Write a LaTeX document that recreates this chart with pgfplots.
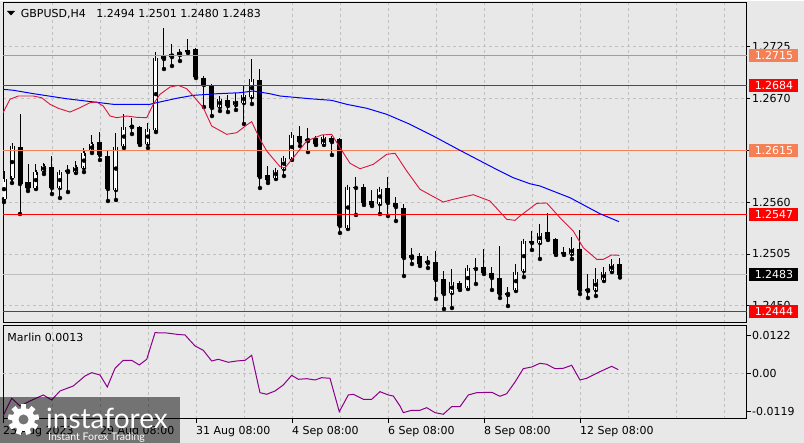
\documentclass[border=0pt]{standalone}
\usepackage{fontspec}
\setmainfont{DejaVu Sans}
\newfontfamily\wmfont{Lato}
\usepackage{pgfplots}
\pgfplotsset{compat=1.18}
\usepackage{pgfplotstable}
\definecolor{bg}{RGB}{232,232,232}
\definecolor{gridc}{RGB}{192,192,192}
\definecolor{lvlred}{RGB}{255,0,0}
\definecolor{lvlorange}{RGB}{245,128,85}
\definecolor{maRed}{RGB}{220,20,60}
\definecolor{maBlue}{RGB}{0,0,255}
\definecolor{marlin}{RGB}{140,0,140}
\definecolor{pricegray}{RGB}{190,190,190}
\definecolor{wmgray}{RGB}{116,116,116}

\pgfplotstableread{
i o h l c
0 1.25632 1.25929 1.25600 1.25844
1 1.25855 1.26226 1.25802 1.26194
2 1.26183 1.26533 1.25473 1.25791
3 1.25812 1.26003 1.25717 1.25749
4 1.25749 1.26003 1.25738 1.25918
5 1.25929 1.26014 1.25897 1.25982
6 1.25971 1.26088 1.25685 1.25749
7 1.25749 1.25929 1.25643 1.25918
8 1.25918 1.25993 1.25706 1.25940
9 1.25918 1.26035 1.25908 1.25971
10 1.25961 1.26173 1.25918 1.26120
11 1.26141 1.26311 1.26120 1.26215
12 1.26236 1.26342 1.26046 1.26099
13 1.26088 1.26141 1.25611 1.25738
14 1.25728 1.26332 1.25622 1.26183
15 1.26194 1.26533 1.26173 1.26395
16 1.26395 1.26491 1.26321 1.26406
17 1.26395 1.26406 1.26205 1.26215
18 1.26215 1.26438 1.26173 1.26374
19 1.26364 1.27190 1.26342 1.27127
20 1.27116 1.27445 1.27010 1.27148
21 1.27137 1.27275 1.27042 1.27169
22 1.27159 1.27222 1.27095 1.27190
23 1.27212 1.27328 1.27180 1.27190
24 1.27222 1.27233 1.26915 1.26925
25 1.26915 1.26936 1.26607 1.26841
26 1.26830 1.26851 1.26512 1.26597
27 1.26607 1.26724 1.26565 1.26692
28 1.26682 1.26735 1.26554 1.26618
29 1.26629 1.26756 1.26576 1.26671
30 1.26650 1.26830 1.26427 1.26735
31 1.26713 1.27116 1.26639 1.26904
32 1.26894 1.27010 1.25749 1.25865
33 1.25887 1.25982 1.25802 1.25834
34 1.25855 1.25950 1.25844 1.25940
35 1.25950 1.26077 1.25876 1.26067
36 1.26056 1.26342 1.26046 1.26311
37 1.26300 1.26406 1.26194 1.26236
38 1.26247 1.26385 1.26130 1.26268
39 1.26279 1.26300 1.26205 1.26215
40 1.26215 1.26311 1.26205 1.26289
41 1.26279 1.26300 1.26099 1.26236
42 1.26268 1.26279 1.25272 1.25346
43 1.25325 1.25770 1.25314 1.25759
44 1.25759 1.25865 1.25463 1.25749
45 1.25759 1.25791 1.25569 1.25590
46 1.25611 1.25728 1.25558 1.25569
47 1.25579 1.25738 1.25473 1.25738
48 1.25749 1.25865 1.25452 1.25590
49 1.25590 1.25653 1.25399 1.25547
50 1.25537 1.25579 1.24816 1.25007
51 1.25007 1.25113 1.24943 1.25039
52 1.25028 1.25060 1.24922 1.24943
53 1.24954 1.25028 1.24901 1.24975
54 1.24964 1.25081 1.24572 1.24774
55 1.24784 1.24869 1.24466 1.24625
56 1.24636 1.24890 1.24477 1.24752
57 1.24742 1.24763 1.24668 1.24678
58 1.24689 1.24933 1.24678 1.24901
59 1.24901 1.25007 1.24731 1.24890
60 1.24911 1.25102 1.24837 1.24848
61 1.24848 1.24911 1.24668 1.24795
62 1.24795 1.25134 1.24583 1.24625
63 1.24615 1.24699 1.24498 1.24636
64 1.24668 1.24943 1.24657 1.24858
65 1.24869 1.25198 1.24805 1.25187
66 1.25187 1.25293 1.25092 1.25166
67 1.25166 1.25367 1.24996 1.25272
68 1.25282 1.25484 1.25198 1.25208
69 1.25208 1.25219 1.25039 1.25049
70 1.25070 1.25123 1.25039 1.25049
71 1.25049 1.25229 1.24996 1.25113
72 1.25102 1.25304 1.24625 1.24668
73 1.24657 1.24837 1.24583 1.24678
74 1.24668 1.24901 1.24604 1.24784
75 1.24774 1.24911 1.24763 1.24858
76 1.24869 1.24996 1.24858 1.24943
77 1.24940 1.25010 1.24800 1.24830
}\candles

\pgfplotstableread{
x y
-0.125 1.26547
0.75 1.26689
1.79 1.26724
3.66 1.26724
4.71 1.26706
5.75 1.26636
6.79 1.26594
8.25 1.26554
9.5 1.26600
10.75 1.26653
11.59 1.26660
12.41 1.26618
13.25 1.26512
14.09 1.26494
15.34 1.26512
16.59 1.26498
17.84 1.26494
18.66 1.26636
19.5 1.26742
20.75 1.26819
21.79 1.26837
22.84 1.26801
23.66 1.26724
24.91 1.26600
25.96 1.26406
27.84 1.26318
29.09 1.26335
30.34 1.26417
30.96 1.26452
32 1.26265
32.84 1.26141
34.5 1.25975
35.13 1.25964
36.16 1.26070
37.84 1.26247
39.71 1.26311
40.96 1.26318
42 1.26176
43.25 1.26011
44.5 1.25953
46.16 1.26000
47.84 1.26106
48.88 1.26117
50.34 1.25929
52 1.25735
54.91 1.25600
56.16 1.25629
58.66 1.25678
60.75 1.25611
62.84 1.25417
63.88 1.25406
64.5 1.25452
66.59 1.25586
67.84 1.25590
69.5 1.25434
71.16 1.25293
72.41 1.25116
74.09 1.24993
74.91 1.24993
75.96 1.25039
76.91 1.25035
}\maredtab

\pgfplotstableread{
x y
-0.125 1.26795
1.16 1.26785
3.66 1.26749
7.84 1.26695
12 1.26653
13.66 1.26636
18.25 1.26636
19.09 1.26653
21.59 1.26700
23.66 1.26731
26.59 1.26748
29.5 1.26759
31.16 1.26777
33.25 1.26748
34.5 1.26724
38.25 1.26695
40.96 1.26678
42.84 1.26636
45.34 1.26594
47.84 1.26530
50.75 1.26424
53.66 1.26300
57 1.26148
61.16 1.25964
63.66 1.25858
65.75 1.25794
67 1.25770
70.75 1.25646
74.5 1.25476
76.88 1.25392
}\mabluetab

\pgfplotstableread{
x y
-0.125 -0.01345
0.96 -0.00782
2 -0.01027
3.25 -0.00868
4.91 -0.00677
5.96 -0.00836
7 -0.00550
8.66 -0.00391
10.13 -0.00073
10.96 0.00032
12 -0.00041
12.91 -0.00423
13.88 0.00172
14.91 0.00426
15.96 0.00426
16.91 0.00277
17.84 0.00458
18.88 0.01304
20.34 0.01294
21.59 0.01253
22.63 0.01231
23.88 0.00881
24.91 0.00744
25.96 0.00404
26.79 0.00458
28.04 0.00363
29.09 0.00404
30.13 0.00426
30.96 0.00585
32 -0.00604
32.84 -0.00655
33.88 -0.00550
34.91 -0.00359
35.96 -0.00051
36.79 -0.00178
37.84 -0.00159
38.88 -0.00200
39.71 -0.00127
40.75 -0.00146
41.91 -0.01208
43.04 -0.00677
43.66 -0.00655
44.91 -0.00814
45.96 -0.00814
47 -0.00572
48.04 -0.00677
48.66 -0.00709
49.5 -0.01027
49.91 -0.01240
50.96 -0.01164
52 -0.01164
52.84 -0.01081
53.88 -0.01240
54.91 -0.01291
55.96 -0.01049
57 -0.01049
58.04 -0.00677
59.09 -0.00604
60.96 -0.00591
62 -0.00719
62.84 -0.00636
63.88 -0.00264
64.91 0.00159
65.96 0.00213
67 0.00331
67.84 0.00299
68.88 0.00159
69.91 0.00172
70.96 0.00267
72 -0.00200
72.84 -0.00146
74.5 0.00064
75.96 0.00235
76.79 0.00130
}\marlintab

\pgfplotsset{
  mtaxis/.style={
    scale only axis, width=744pt,
    xmin=-0.125, xmax=92.875,
    axis background/.style={fill=bg},
    axis line style={black, line width=1pt},
    major grid style={gridc, dash pattern=on 3pt off 3pt, line width=0.8pt},
    minor grid style={gridc, dash pattern=on 3pt off 3pt, line width=0.8pt},
    tick align=outside,
    major tick length=4pt, minor tick length=0pt,
    tick style={black, line width=0.8pt},
    tick label style={font=\fontsize{11}{13}\selectfont, black},
    clip mode=individual,
  },
}
\tikzset{
  levelbox/.style={anchor=west, text=white, minimum width=49pt, minimum height=13pt, inner sep=0pt, font=\fontsize{11}{13}\selectfont},
}

\begin{document}
\begin{tikzpicture}[x=1pt,y=1pt,font=\fontsize{11}{13}\selectfont]
\fill[bg] (0,0) rectangle (804,442);

% ---------- main price panel ----------
\begin{axis}[mtaxis,
  at={(3pt,440pt)}, anchor=north west, height=320pt,
  ymin=1.24318, ymax=1.27710,
  xtick={12,24,36,48,60,72}, xticklabels={},
  minor xtick={6,18,30,42,54,66,78,84,90},
  xmajorgrids, xminorgrids,
  xtick style={draw=none},
  ytick={1.2450,1.2505,1.2560,1.2670,1.2725},
  yticklabels={1.2450,1.2505,1.2560,1.2670,1.2725},
  extra y ticks={1.2615}, extra y tick labels={},
  ymajorgrids,
  ytick pos=right, yticklabel pos=right,
  yticklabel style={anchor=west, inner sep=0pt, xshift=2pt},
  major tick length=3pt,
]
\addplot[pricegray, line width=1pt, forget plot] coordinates {(-0.125,1.2483) (92.875,1.2483)};

% wicks
\addplot[only marks, mark=none, forget plot,
  error bars/.cd, y dir=plus, y explicit, error mark=none,
  error bar style={black, line width=1pt}]
  table[x=i, y=l, y error plus expr=\thisrow{h}-\thisrow{l}] {\candles};
% bearish bodies
\addplot[only marks, mark=none, forget plot,
  restrict expr to domain={\thisrow{o}-\thisrow{c}}{0.000001:1},
  error bars/.cd, y dir=plus, y explicit, error mark=none,
  error bar style={black, line width=5pt}]
  table[x=i, y=c, y error plus expr=\thisrow{o}-\thisrow{c}] {\candles};
% bullish bodies: outline then white fill
\addplot[only marks, mark=none, forget plot,
  restrict expr to domain={\thisrow{c}-\thisrow{o}}{0:1},
  error bars/.cd, y dir=plus, y explicit, error mark=none,
  error bar style={black, line width=5pt}]
  table[x=i, y=o, y error plus expr=\thisrow{c}-\thisrow{o}] {\candles};
\addplot[only marks, mark=none, forget plot,
  restrict expr to domain={\thisrow{c}-\thisrow{o}}{0:1},
  error bars/.cd, y dir=both, y explicit, error mark=-,
  error bar style={white, line width=3pt},
  error mark options={black, line width=1pt, mark size=2.5pt}]
  table[x=i, y expr=(\thisrow{o}+\thisrow{c})/2, y error expr=(\thisrow{c}-\thisrow{o})/2] {\candles};

% horizontal levels
\addplot[lvlorange, line width=1pt, forget plot] coordinates {(-0.125,1.2715) (92.875,1.2715)};
\addplot[lvlorange, line width=1pt, forget plot] coordinates {(-0.125,1.2615) (92.875,1.2615)};
\addplot[lvlred, line width=1pt, forget plot] coordinates {(-0.125,1.2684) (92.875,1.2684)};
\addplot[lvlred, line width=1pt, forget plot] coordinates {(-0.125,1.2547) (92.875,1.2547)};
\addplot[lvlred, line width=1pt, forget plot] coordinates {(-0.125,1.2444) (92.875,1.2444)};

% moving averages
\addplot[maBlue, line width=1pt, forget plot] table[x=x,y=y] {\mabluetab};
\addplot[maRed, line width=0.9pt, forget plot] table[x=x,y=y] {\maredtab};

\coordinate (L1) at (axis cs:92.875,1.2715);
\coordinate (L2) at (axis cs:92.875,1.2684);
\coordinate (L3) at (axis cs:92.875,1.2615);
\coordinate (L4) at (axis cs:92.875,1.2547);
\coordinate (L5) at (axis cs:92.875,1.2483);
\coordinate (L6) at (axis cs:92.875,1.2444);
\end{axis}

% right-side level boxes (drawn over the tick labels)
\node[levelbox, fill=lvlorange] at ([xshift=2.3pt]L1) {1.2715};
\node[levelbox, fill=lvlred] at ([xshift=2.3pt]L2) {1.2684};
\node[levelbox, fill=lvlorange] at ([xshift=2.3pt]L3) {1.2615};
\node[levelbox, fill=lvlred] at ([xshift=2.3pt]L4) {1.2547};
\node[levelbox, fill=black] at ([xshift=2.3pt]L5) {1.2483};
\node[levelbox, fill=lvlred] at ([xshift=2.3pt]L6) {1.2444};

% ---------- Marlin sub panel ----------
\begin{axis}[mtaxis,
  at={(3pt,117pt)}, anchor=north west, height=93pt,
  ymin=-0.01441, ymax=0.01517,
  xtick={-0.125,12,24,36,48,60,72},
  xticklabels={25 Aug 2023,29 Aug 08:00,31 Aug 08:00,4 Sep 08:00,6 Sep 08:00,8 Sep 08:00,12 Sep 08:00},
  minor xtick={6,18,30,42,54,66,78,84,90},
  xmajorgrids, xminorgrids,
  xtick pos=lower,
  xticklabel style={anchor=base west, inner sep=0pt, yshift=-12pt},
  scaled y ticks=false,
  ytick={-0.0119,0,0.0122},
  yticklabels={-0.0119,0.00,0.0122},
  ytick pos=right, yticklabel pos=right,
  yticklabel style={anchor=west, inner sep=0pt, xshift=1pt},
]
\addplot[gridc, dash pattern=on 3pt off 3pt, line width=0.8pt, forget plot] coordinates {(-0.125,0) (92.875,0)};
\addplot[marlin, line width=1pt, forget plot] table[x=x,y=y] {\marlintab};
\end{axis}

% title and indicator label
\fill[black] (7,432) -- (15,432) -- (11,427.5) -- cycle;
\node[anchor=base west, inner sep=0pt] at (20.7,425.5) {GBPUSD,H4\ \ \ 1.2494 1.2501 1.2480 1.2483};
\node[anchor=base west, inner sep=0pt] at (7.3,101.5) {Marlin 0.0013};

% watermark
\fill[black, opacity=0.5] (0,0) rectangle (180,45.5);
\begin{scope}[shift={(23.5,23.5)}]
  \foreach \a in {0,40,...,320} { \fill[white, rotate=\a] (-2.6,9) rectangle (2.6,15.5); }
  \fill[white] (0,0) circle (11.5);
  \fill[wmgray] (0,0) circle (5);
\end{scope}
\node[anchor=base west, inner sep=0pt, text=white, font=\wmfont\fontsize{28}{28}\selectfont] at (46,14) {instaforex};
\node[anchor=base west, inner sep=0pt, text=white, font=\wmfont\fontsize{10.5}{12}\selectfont] at (48,2.5) {Instant Forex Trading};
\end{tikzpicture}
\end{document}
